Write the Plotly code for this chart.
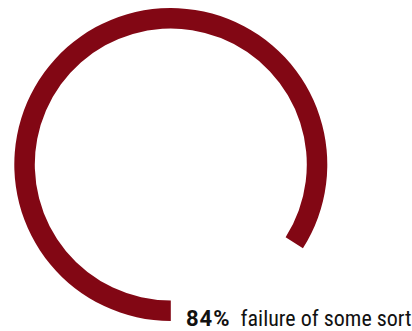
import plotly.graph_objects as go

labels = ["failure of some sort", "other"]
values = [84, 16]
pct_label = "84%"
caption = "failure of some sort"

W, H = 412, 331
cx, cy, r = 170.8, 164.5, 156.5

fig = go.Figure(go.Pie(
    labels=labels, values=values, sort=False,
    direction="clockwise", rotation=180,
    hole=0.869,
    marker=dict(colors=["#820714", "rgba(0,0,0,0)"], line=dict(width=0)),
    textinfo="none", hoverinfo="skip", showlegend=False,
    domain=dict(x=[(cx - r) / W, (cx + r) / W],
                y=[(H - cy - r) / H, (H - cy + r) / H]),
))

fig.add_annotation(
    xref="paper", yref="paper", x=1.0, y=0,
    xanchor="right", yanchor="bottom", showarrow=False,
    text=(f'<b><span style="letter-spacing:1px">{pct_label}</span></b>'
          f'<span style="font-stretch:condensed">&nbsp; {caption}</span>'),
    font=dict(family="Roboto", size=22, color="#111111"),
    borderpad=0, borderwidth=0, yshift=0,
)

fig.update_layout(width=W, height=H, margin=dict(l=0, r=0, t=0, b=0),
                  paper_bgcolor="white", plot_bgcolor="white")
fig.write_html("out.html", post_script="document.body.style.margin='0';",
               config={"displayModeBar": False})
